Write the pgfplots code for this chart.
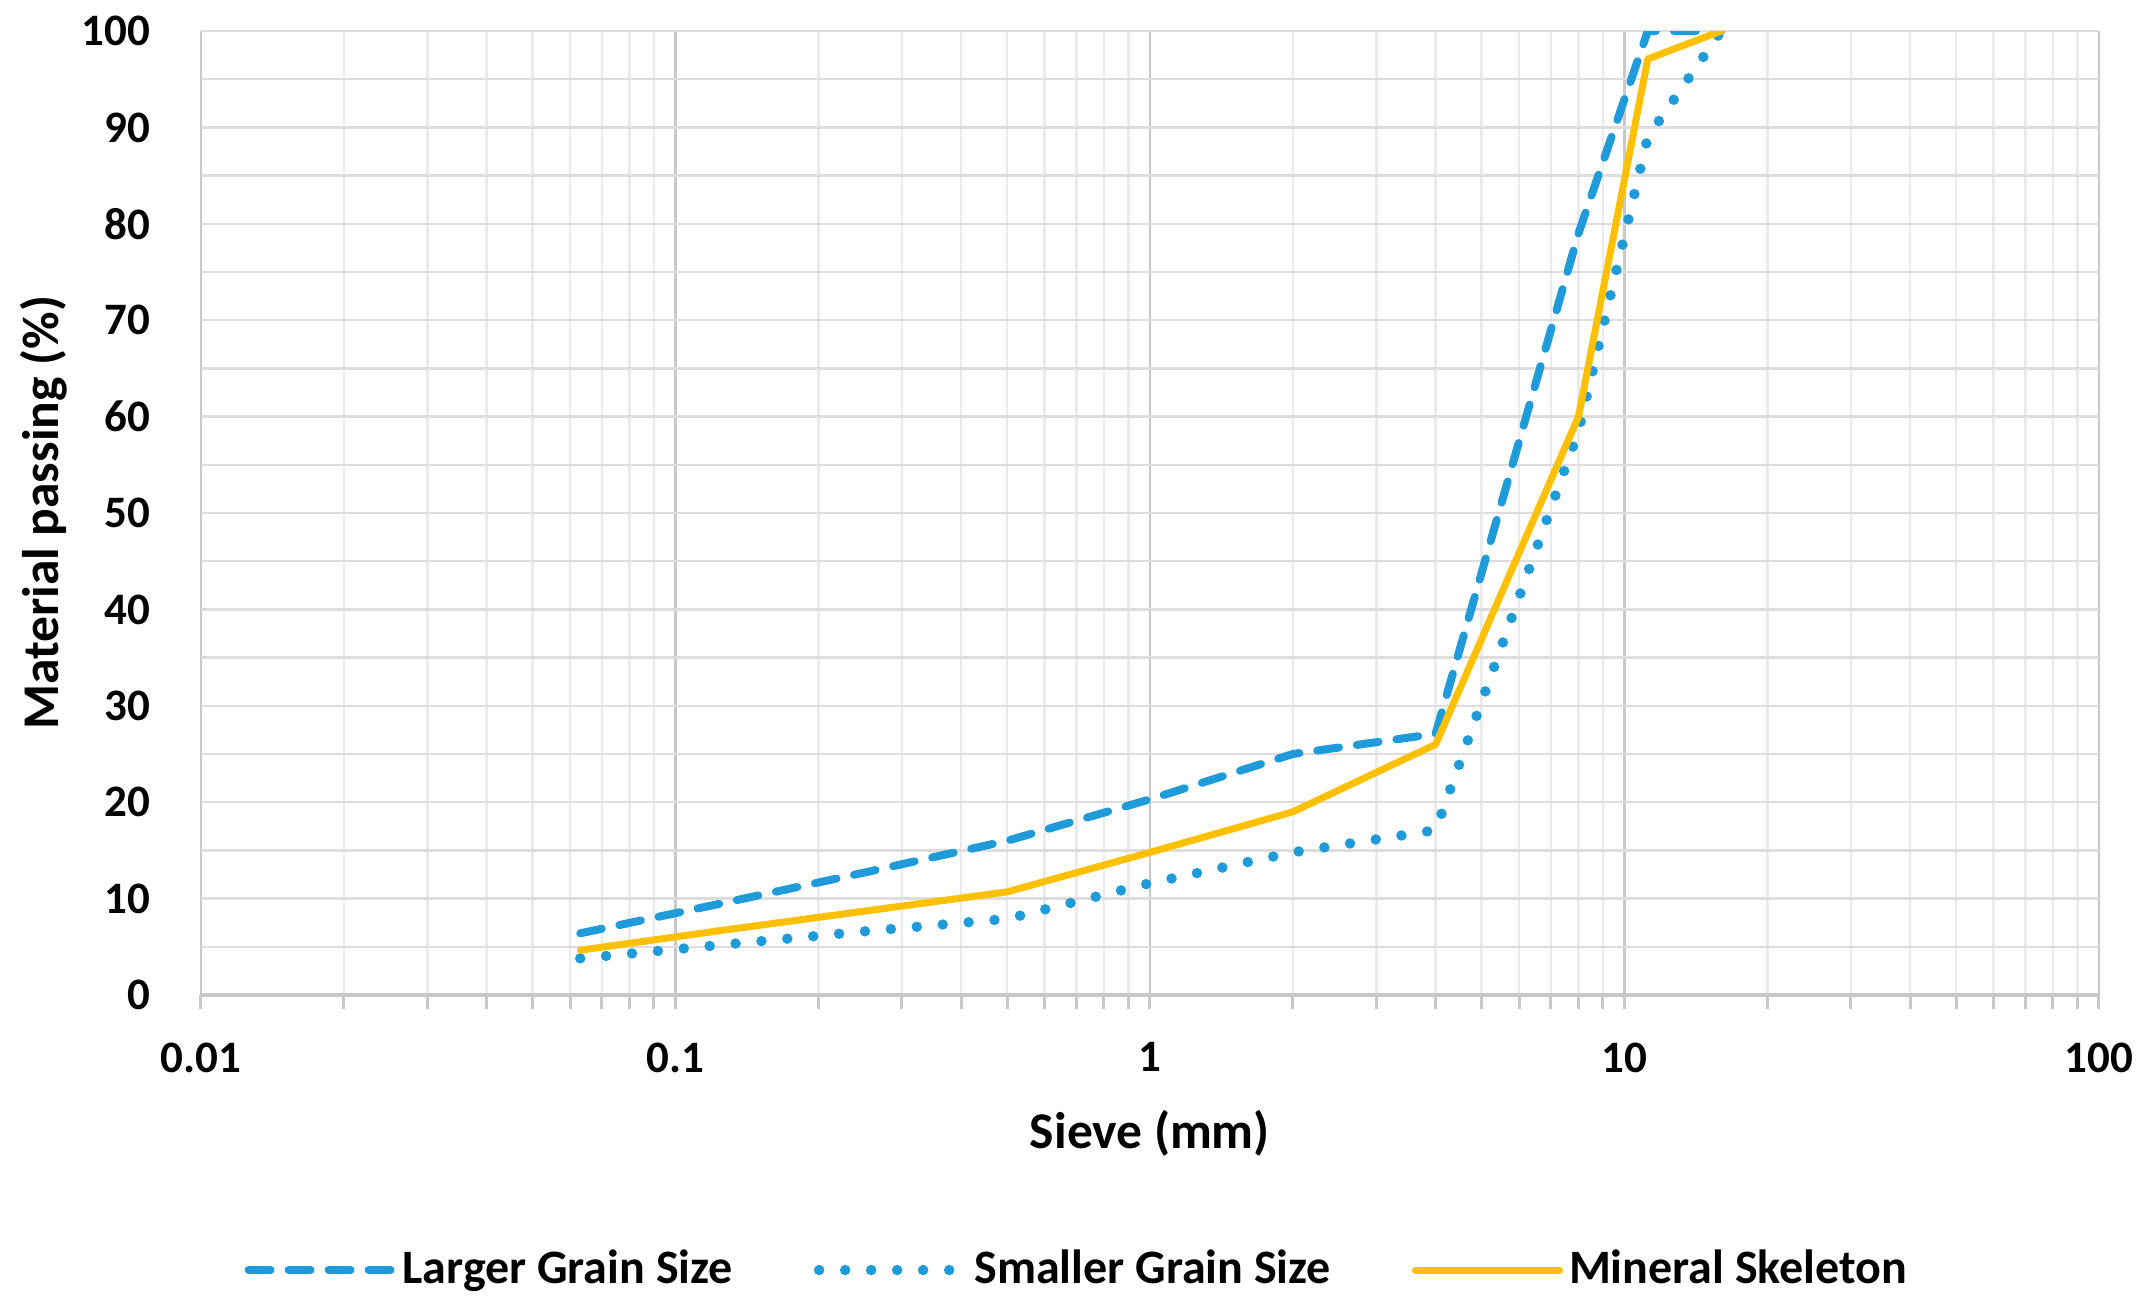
\documentclass[border=0pt]{standalone}
\usepackage{fontspec}
\setmainfont{Carlito}
\usepackage{pgfplots}
\pgfplotsset{compat=1.18}

\definecolor{gsblue}{RGB}{30,155,216}
\definecolor{gsgold}{RGB}{255,192,0}
\definecolor{majgrid}{RGB}{200,200,200}
\definecolor{mingrid}{RGB}{235,235,235}

\begin{document}
\begin{tikzpicture}
  \path[use as bounding box] (-40.2pt,-61.6pt) rectangle (388.8pt,199pt);
  \begin{axis}[
      at={(0,0)}, anchor=south west,
      scale only axis,
      width=379.6pt, height=192.8pt,
      xmode=log, log basis x=10,
      xmin=0.01, xmax=100,
      ymin=0, ymax=100,
      xtick={0.01,0.1,1,10,100},
      xticklabels={0.01,0.1,1,10,100},
      minor xtick={0.02,0.03,0.04,0.05,0.06,0.07,0.08,0.09,
                   0.2,0.3,0.4,0.5,0.6,0.7,0.8,0.9,
                   2,3,4,5,6,7,8,9,
                   20,30,40,50,60,70,80,90},
      ytick={0,10,...,100},
      minor ytick={5,15,...,95},
      grid=both,
      major grid style={draw=majgrid, line width=0.5pt},
      minor grid style={draw=mingrid, line width=0.5pt},
      y grid style={draw=mingrid!60!majgrid},
      axis x line*=bottom,
      axis y line*=left,
      x axis line style={draw=majgrid, line width=0.9pt, -},
      y axis line style={draw=none},
      tick align=outside,
      major tick length=2.7pt,
      minor tick length=2.7pt,
      xtick style={draw=majgrid, line width=0.6pt},
      minor x tick style={draw=majgrid, line width=0.6pt},
      ytick style={draw=none},
      minor y tick style={draw=none},
      /pgf/number format/assume math mode=true,
      tick label style={font=\fontsize{9}{10}\selectfont\bfseries},
      xticklabel style={yshift=-3.3pt},
      yticklabel style={xshift=-4pt},
      xlabel={Sieve (mm)},
      ylabel={Material passing (\%)},
      label style={font=\fontsize{10.3}{12}\selectfont\bfseries},
      xlabel style={at={(axis description cs:0.5,-0.1432)}, anchor=center},
      ylabel style={at={(axis description cs:-0.0827,0.5)}, anchor=center},
      legend columns=3,
      legend style={
        at={(axis description cs:0.4625,-0.2853)}, anchor=center,
        draw=none, fill=none,
        font=\fontsize{9.6}{11}\selectfont\bfseries,
        /tikz/every even column/.append style={column sep=15pt},
        /tikz/every node/.append style={inner xsep=1.2pt},
      },
      legend image code/.code={\draw[#1] (0pt,0pt) -- (28.8pt,0pt);},
    ]
    \addplot[gsblue, line width=1.6pt, line cap=round,
             dash pattern=on 4.4pt off 3.6pt] coordinates {
      (0.063,6.4) (0.125,9.5) (0.25,12.7) (0.5,16.0) (1,20.3)
      (2,25.0) (4,27.1) (8,79) (11.2,100) (16,100)
    };
    \addlegendentry{Larger Grain Size}
    \addplot[gsblue, line width=2.1pt, line cap=round,
             dash pattern=on 0pt off 5.2pt] coordinates {
      (0.063,3.8) (0.125,5.2) (0.25,6.6) (0.5,7.9) (1,11.6)
      (2,14.8) (4,17.1) (8,58.5) (11.2,89) (16,100)
    };
    \addlegendentry{Smaller Grain Size}
    \addplot[gsgold, line width=1.4pt, line cap=round, line join=round] coordinates {
      (0.063,4.65) (0.125,6.7) (0.25,8.7) (0.5,10.7) (1,14.8)
      (2,19.0) (4,26.0) (8,60) (11.2,97.1) (16,100)
    };
    \addlegendentry{Mineral Skeleton}
  \end{axis}
\end{tikzpicture}
\end{document}
